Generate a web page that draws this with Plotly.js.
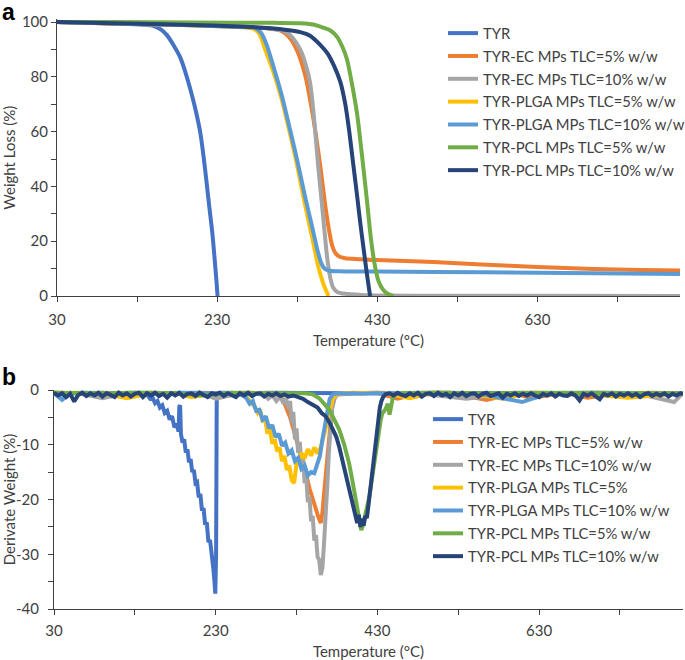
<!DOCTYPE html>
<html>
<head>
<meta charset="utf-8">
<script src="https://cdn.plot.ly/plotly-3.0.1.min.js"></script>
<style>html,body{margin:0;padding:0;background:#fff;}</style>
</head>
<body>
<div id="chart" style="width:685px;height:660px;"></div>
<script>
// ---------- Panel a: TGA (weight loss %) ----------
const tgaTyrT = [30, 60, 90, 120, 140, 150, 160, 167, 175, 184, 190, 196, 203, 209, 213, 217, 220, 224, 227, 229, 230.5];
const tgaTyrW = [100, 99.8, 99.6, 99.3, 99.0, 98.6, 97.2, 95.3, 91.8, 87, 82, 76, 68, 59.5, 51, 41, 33, 23, 13, 6, 0];

const tgaEc5T = [30, 100, 200, 250, 290, 310, 320, 330, 340, 350, 359, 365, 370, 374, 378, 383, 390, 430, 500, 560, 630, 700, 760, 808];
const tgaEc5W = [100, 99.5, 98.8, 98.4, 97.8, 96.8, 94.5, 89.5, 80.5, 65, 47, 33, 23.5, 18, 15.5, 14.3, 13.8, 13.1, 12.4, 11.5, 10.6, 9.9, 9.5, 9.3];

const tgaEc10T = [30, 100, 200, 250, 290, 315, 325, 334, 340, 346, 351, 356, 362, 367, 371, 375, 380, 390, 410, 440, 500, 808];
const tgaEc10W = [100, 99.5, 98.8, 98.4, 97.8, 96.5, 94, 89.8, 85, 78, 65, 48, 30, 15, 7, 3, 1.5, 0.8, 0.4, 0.2, 0.1, 0];

const tgaPlga5T = [30, 100, 200, 250, 275, 283, 290, 300, 310, 320, 330, 340, 350, 356, 362, 366, 369];
const tgaPlga5W = [100, 99.5, 98.8, 98.3, 97.6, 95.5, 90, 82, 72.5, 60.5, 47.5, 33, 19.5, 11, 5, 2, 0];

const tgaPlga10T = [30, 100, 200, 250, 278, 285, 292, 300, 310, 320, 330, 340, 348, 355, 360, 364, 370, 380, 430, 500, 630, 808];
const tgaPlga10W = [100, 99.5, 98.8, 98.3, 97.8, 96, 91.5, 84, 74, 62, 49.5, 36, 26, 17, 12, 10, 9.2, 9, 8.9, 8.8, 8.5, 8.0];

const tgaPcl5T = [30, 100, 200, 300, 334, 350, 359, 371, 380, 387, 392, 398, 405, 411, 417, 422, 427, 432, 438, 444, 450];
const tgaPcl5W = [100, 100, 99.8, 99.7, 99.6, 99.1, 98.3, 97, 94.5, 90.5, 86.5, 78, 66, 51, 35, 21, 11, 5, 2, 0.6, 0];

const tgaPcl10T = [30, 100, 200, 250, 292, 320, 334, 346, 359, 368, 376, 384, 390, 395, 400, 405, 409, 413, 417, 421];
const tgaPcl10W = [100, 99.6, 98.9, 98.5, 97.8, 97, 96.3, 95, 91.6, 88.5, 84, 78, 70, 60, 48, 36, 26, 17, 8, 0];

// ---------- Panel b: DTG (derivate weight %) ----------
const dtgTyrT = [30, 40, 50, 60, 70, 80, 90, 100, 110, 120, 130, 140,
  146, 149, 152, 155, 158, 161, 164, 167, 170, 173, 176, 179, 182,
  184, 185, 186, 187,
  189, 191, 193, 195, 197, 199, 201, 203, 205, 207, 209, 211, 213, 215, 217, 219, 221, 223, 225, 227,
  228.5, 229.5, 230.5, 231.3,
  235, 260, 300, 400, 500, 600, 700, 808];
const dtgTyrD = [-0.6, -0.8, -0.5, -0.7, -0.6, -0.9, -0.5, -0.7, -0.6, -0.8, -0.6, -0.7,
  -1.0, -1.6, -1.4, -2.4, -2.0, -3.2, -2.8, -4.2, -3.8, -5.4, -4.8, -6.8, -6.2,
  -7.6, -3.0, -2.8, -8.0,
  -9.6, -9.0, -11.4, -10.8, -13.2, -12.6, -15.0, -14.6, -17.0, -16.8, -19.6, -19.0, -22.0, -21.6, -24.6, -24.2, -27.8, -27.4, -31.0, -32.5,
  -35.0, -37.2, -30.0, -1.0,
  -0.5, -0.6, -0.5, -0.6, -0.5, -0.6, -0.5, -0.6];

const dtgEc5T = [30, 60, 90, 120, 150, 180, 210, 240, 270, 300,
  310, 314, 318, 322, 326, 330, 334, 338, 342, 346,
  350, 354, 357, 360, 362, 364, 366, 368, 370, 372,
  374, 377, 380, 400, 430, 455, 480, 520, 565, 600,
  620, 660, 690, 730, 770, 808];
const dtgEc5D = [-0.5, -0.6, -0.5, -0.6, -0.5, -0.6, -0.5, -0.6, -0.5, -0.7,
  -1.0, -2.0, -3.5, -5.0, -7.0, -9.0, -11.0, -13.0, -15.5, -18.0,
  -20.0, -22.0, -23.2, -24.3, -22.5, -19.0, -15.5, -12.0, -8.0, -5.0,
  -3.0, -1.5, -0.8, -0.6, -0.5, -1.6, -0.6, -0.5, -1.8, -0.6,
  -1.5, -0.5, -1.4, -0.6, -0.5, -0.6];

const dtgEc10T = [30, 60, 90, 120, 150, 180, 210, 230, 260, 290,
  295, 300, 305, 310, 314, 317, 320, 322, 324, 326,
  328, 330, 332, 334, 336, 338, 340, 342, 344, 346,
  348, 350, 352, 354, 356, 358, 360, 362, 364, 366,
  368, 370, 372, 374, 377, 380, 400, 430, 480, 540,
  600, 650, 700, 750, 797, 808];
const dtgEc10D = [-0.5, -0.6, -1.5, -0.6, -0.5, -0.6, -0.5, -1.6, -0.6, -0.8,
  -1.6, -0.9, -2.0, -1.2, -2.5, -1.5, -3.5, -2.0, -6.0, -4.0,
  -9.0, -7.0, -11.5, -9.5, -13.5, -12.0, -17.0, -16.0, -20.5, -19.5,
  -24.0, -23.0, -27.5, -26.5, -30.5, -31.0, -33.8, -32.5, -28.0, -23.4,
  -17.5, -11.3, -6.5, -3.5, -1.5, -0.8, -0.6, -0.5, -0.6, -1.6,
  -0.5, -0.6, -0.5, -0.6, -2.2, -0.6];

const dtgPlga5T = [30, 60, 90, 120, 150, 180, 200, 230, 260,
  266, 270, 274, 278, 282, 285, 288, 291, 294, 297,
  300, 303, 306, 309, 312, 315, 318, 321, 324, 327,
  330, 333, 336, 340, 344, 348, 352, 356, 360, 363,
  366, 369, 372, 375, 380, 400, 440, 470, 500, 540,
  585, 620, 680, 740, 808];
const dtgPlga5D = [-0.6, -0.5, -0.6, -1.5, -0.6, -0.5, -1.3, -0.6, -0.6,
  -1.0, -1.6, -2.2, -3.0, -4.2, -3.6, -5.8, -5.2, -8.0, -7.0,
  -9.8, -9.0, -11.2, -10.5, -13.0, -12.0, -14.6, -13.8, -16.5, -17.0,
  -13.5, -12.8, -11.5, -12.5, -10.8, -12.0, -10.5, -11.6, -10.4, -9.0,
  -7.0, -5.0, -3.0, -1.5, -0.7, -0.5, -0.6, -1.5, -0.5, -0.6,
  -1.6, -0.5, -0.6, -1.4, -0.6];

const dtgPlga10T = [30, 40, 50, 70, 100, 130, 160, 190, 220, 250,
  262, 268, 272, 276, 280, 284, 288, 292, 296, 300,
  304, 308, 312, 316, 320, 324, 328, 332, 336, 340,
  344, 348, 352, 356, 359, 362, 364, 366, 368, 371,
  375, 380, 390, 400, 410, 430, 470, 520, 560, 609,
  640, 700, 760, 808];
const dtgPlga10D = [-0.6, -1.8, -0.6, -0.5, -0.6, -0.5, -0.6, -0.5, -0.6, -0.5,
  -0.9, -1.5, -2.5, -2.0, -3.8, -3.6, -5.4, -4.8, -7.0, -6.4,
  -8.6, -8.0, -10.2, -9.6, -11.6, -11.0, -13.0, -12.4, -14.4, -13.8,
  -15.6, -15.0, -15.2, -13.0, -12.0, -9.0, -7.3, -5.0, -3.2, -1.6,
  -0.8, -0.6, -0.7, -0.6, -0.7, -0.6, -0.7, -0.6, -0.8, -2.2,
  -0.7, -0.6, -0.7, -0.6];

const dtgPcl5T = [30, 80, 130, 180, 214, 250, 300, 340, 350, 358,
  364, 371, 377, 383, 389, 395, 399, 403, 406, 408,
  410, 412, 414, 417, 420, 424, 428, 431, 434, 436,
  440, 443, 445, 447, 449, 452, 460, 500, 560, 620,
  700, 760, 808];
const dtgPcl5D = [-0.5, -0.6, -0.5, -0.6, -1.0, -0.5, -0.6, -0.6, -0.8, -1.5,
  -2.5, -3.7, -5.5, -7.3, -10.0, -13.4, -16.5, -20.0, -23.0, -24.5,
  -25.6, -24.8, -23.5, -21.5, -19.5, -15.5, -11.0, -8.0, -5.5, -4.3,
  -3.5, -2.5, -4.5, -3.0, -1.5, -0.8, -0.6, -0.5, -0.6, -0.5,
  -0.6, -0.5, -0.6];

const dtgPcl10T = [30, 35, 40, 45, 50, 55, 60, 65, 70, 75,
  80, 85, 90, 95, 100, 105, 110, 115, 120, 125,
  130, 135, 140, 145, 150, 155, 160, 165, 170, 175,
  180, 185, 190, 195, 200, 205, 210, 215, 220, 225,
  230, 235, 240, 245, 250, 255, 260, 265, 270, 275,
  280, 285, 290, 295, 300, 305, 310, 315, 320,
  326, 332, 338, 344, 350, 356, 361, 366, 371, 375,
  379, 383, 387, 391, 395, 398, 401, 403, 405, 407,
  409, 411, 413, 415, 417, 419, 421, 423, 425, 427,
  429, 431, 433, 435, 437, 440,
  445, 450, 455, 460, 465, 470, 475, 480, 485, 490,
  495, 500, 505, 510, 515, 520, 525, 530, 535, 540,
  545, 550, 555, 560, 565, 570, 575, 580, 585, 590,
  595, 600, 605, 610, 615, 620, 625, 630, 635, 640,
  645, 650, 655, 660, 665, 670, 675, 680, 685, 690,
  695, 700, 705, 710, 715, 720, 725, 730, 735, 740,
  745, 750, 755, 760, 765, 770, 775, 780, 785, 790,
  795, 800, 805, 808];
const dtgPcl10D = [-0.5, -1.0, -0.6, -1.3, -0.7, -2.1, -0.9, -0.5, -1.1, -0.6,
  -1.0, -0.5, -1.2, -0.6, -0.9, -1.3, -0.5, -1.0, -0.6, -1.2,
  -0.7, -0.5, -1.3, -0.6, -1.0, -0.5, -1.1, -0.7, -1.4, -0.6,
  -1.0, -0.5, -1.2, -0.7, -0.6, -1.1, -0.5, -1.0, -1.3, -0.6,
  -0.8, -0.5, -1.1, -0.6, -1.0, -1.3, -0.6, -1.0, -0.5, -1.1,
  -0.7, -0.6, -1.2, -0.7, -1.0, -0.6, -1.1, -0.8, -1.2,
  -1.0, -1.3, -1.6, -2.2, -2.6, -3.2, -4.2, -4.8, -6.0, -7.3,
  -8.5, -10.5, -13.0, -15.5, -18.5, -20.5, -22.0, -23.0, -24.3, -22.8,
  -25.0, -23.5, -24.8, -23.0, -23.4, -21.0, -18.5, -16.0, -13.0, -10.0,
  -7.5, -5.0, -3.2, -2.0, -1.3, -0.8,
  -0.6, -1.0, -0.5, -0.9, -1.1, -0.6, -1.0, -0.5, -1.2, -0.7,
  -0.6, -1.1, -0.5, -1.0, -0.7, -1.3, -0.6, -1.0, -0.5, -1.1,
  -0.7, -0.6, -1.2, -0.7, -0.5, -1.1, -0.9, -0.6, -1.4, -0.7,
  -1.0, -0.6, -1.1, -0.7, -1.0, -0.6, -1.0, -1.3, -0.7, -1.0,
  -0.6, -1.2, -0.7, -1.0, -1.1, -0.6, -1.0, -1.9, -0.7, -1.0,
  -0.6, -1.1, -1.7, -0.7, -1.0, -0.6, -1.2, -0.7, -1.0, -0.6,
  -1.1, -0.7, -1.3, -0.8, -0.6, -1.1, -0.7, -1.0, -0.6, -1.2,
  -0.7, -1.0, -0.6, -0.8];

// ---------- Labels, colours, ticks ----------
const namesA = ['TYR', 'TYR-EC MPs TLC=5% w/w', 'TYR-EC MPs TLC=10% w/w', 'TYR-PLGA MPs TLC=5% w/w',
  'TYR-PLGA MPs TLC=10% w/w', 'TYR-PCL MPs TLC=5% w/w', 'TYR-PCL MPs TLC=10% w/w'];
const namesB = ['TYR', 'TYR-EC MPs TLC=5% w/w', 'TYR-EC MPs TLC=10% w/w', 'TYR-PLGA MPs TLC=5%',
  'TYR-PLGA MPs TLC=10% w/w', 'TYR-PCL MPs TLC=5% w/w', 'TYR-PCL MPs TLC=10% w/w'];
const colors = ['#4472C4', '#ED7D31', '#A5A5A5', '#FFC000', '#5B9BD5', '#70AD47', '#264478'];

const xTickVals = [30, 130, 230, 330, 430, 530, 630, 730];
const xTickText = ['30', '', '230', '', '430', '', '630', ''];
const yaTickVals = [0, 10, 20, 30, 40, 50, 60, 70, 80, 90, 100];
const yaTickText = ['0', '', '20', '', '40', '', '60', '', '80', '', '100'];
const ybTickVals = [-40, -35, -30, -25, -20, -15, -10, -5, 0];
const ybTickText = ['-40', '', '-30', '', '-20', '', '-10', '', '0'];

const tgaX = [tgaTyrT, tgaEc5T, tgaEc10T, tgaPlga5T, tgaPlga10T, tgaPcl5T, tgaPcl10T];
const tgaY = [tgaTyrW, tgaEc5W, tgaEc10W, tgaPlga5W, tgaPlga10W, tgaPcl5W, tgaPcl10W];
const dtgX = [dtgTyrT, dtgEc5T, dtgEc10T, dtgPlga5T, dtgPlga10T, dtgPcl5T, dtgPcl10T];
const dtgY = [dtgTyrD, dtgEc5D, dtgEc10D, dtgPlga5D, dtgPlga10D, dtgPcl5D, dtgPcl10D];

const FONT = 'Lato, "Open Sans", sans-serif';
const TXT = '#404040';

const traces = [];
for (let i = 0; i < 7; i++) {
  traces.push({
    type: 'scatter', mode: 'lines', x: tgaX[i], y: tgaY[i], name: namesA[i],
    xaxis: 'x', yaxis: 'y', legend: 'legend', legendgroup: 'a' + i,
    line: {color: colors[i], width: 4, shape: 'spline', smoothing: 0.6}, hoverinfo: 'skip'
  });
}
for (let i = 0; i < 7; i++) {
  traces.push({
    type: 'scatter', mode: 'lines', x: dtgX[i], y: dtgY[i], name: namesB[i],
    xaxis: 'x2', yaxis: 'y2', legend: 'legend2', legendgroup: 'b' + i,
    line: {color: colors[i], width: 4}, hoverinfo: 'skip'
  });
}

const H = 660, Wd = 685;
const axCommon = {
  showgrid: false, zeroline: false, showline: true, linecolor: TXT, linewidth: 1,
  ticks: 'outside', ticklen: 5, tickwidth: 1, tickcolor: TXT, automargin: false,
  tickfont: {family: FONT, size: 15, color: TXT}, fixedrange: true
};

const LEGFONT = 14.8;
const layout = {
  width: Wd, height: H,
  margin: {l: 0, r: 0, t: 0, b: 0, autoexpand: false},
  paper_bgcolor: '#ffffff', plot_bgcolor: '#ffffff',
  font: {family: FONT, size: 15, color: TXT},
  xaxis: Object.assign({}, axCommon, {
    domain: [57 / Wd, 680 / Wd], anchor: 'y', range: [30, 808],
    tickmode: 'array', tickvals: xTickVals, ticktext: xTickText, ticklabelstandoff: 5,
    title: {text: 'Temperature (°C)', font: {family: FONT, size: 15, color: TXT}, standoff: 8}
  }),
  yaxis: Object.assign({}, axCommon, {
    domain: [(H - 296) / H, (H - 19.3) / H], anchor: 'x', range: [0, 101],
    tickmode: 'array', tickvals: yaTickVals, ticktext: yaTickText,
    title: {text: 'Weight Loss (%)', font: {family: FONT, size: 15, color: TXT}, standoff: 5}
  }),
  xaxis2: Object.assign({}, axCommon, {
    domain: [54 / Wd, 683 / Wd], anchor: 'y2', range: [30, 808],
    tickmode: 'array', tickvals: xTickVals, ticktext: xTickText, ticklabelstandoff: 3,
    title: {text: 'Temperature (°C)', font: {family: FONT, size: 15, color: TXT}, standoff: 8}
  }),
  yaxis2: Object.assign({}, axCommon, {
    domain: [(H - 609) / H, (H - 390) / H], anchor: 'x2', range: [-40, 0],
    tickmode: 'array', tickvals: ybTickVals, ticktext: ybTickText, ticklabelstandoff: 6,
    title: {text: 'Derivate Weight (%)', font: {family: FONT, size: 15, color: TXT}, standoff: 7}
  }),
  legend: {
    x: 443 / Wd, y: (H - 17) / H, xanchor: 'left', yanchor: 'top', tracegroupgap: 0.6,
    bgcolor: 'rgba(0,0,0,0)', borderwidth: 0, font: {family: FONT, size: LEGFONT, color: TXT}
  },
  legend2: {
    x: 428 / Wd, y: (H - 403) / H, xanchor: 'left', yanchor: 'top', tracegroupgap: 0.6,
    bgcolor: 'rgba(0,0,0,0)', borderwidth: 0, font: {family: FONT, size: LEGFONT, color: TXT}
  },
  annotations: [
    {text: '<b>a</b>', xref: 'paper', yref: 'paper', x: 0, y: 1.005, xanchor: 'left', yanchor: 'top',
     showarrow: false, font: {family: 'Liberation Sans, Arial, sans-serif', size: 23, color: '#000'}},
    {text: '<b>b</b>', xref: 'paper', yref: 'paper', x: 0, y: (H - 362) / H, xanchor: 'left', yanchor: 'top',
     showarrow: false, font: {family: 'Liberation Sans, Arial, sans-serif', size: 23, color: '#000'}}
  ]
};

Plotly.newPlot('chart', traces, layout, {displayModeBar: false, staticPlot: true});
</script>
</body>
</html>
